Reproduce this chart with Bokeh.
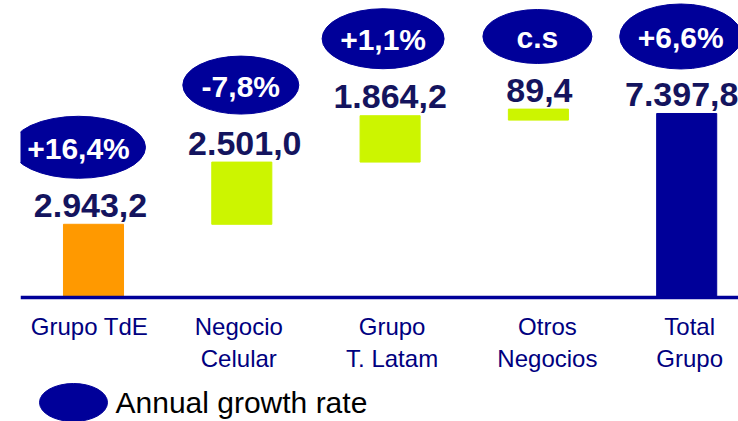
from bokeh.plotting import figure
from bokeh.models import ColumnDataSource, Range1d, Span
from bokeh.core.properties import value
from bokeh.embed import file_html
from bokeh.resources import INLINE

# ---------------- data ----------------
categories = ["Grupo TdE", "Negocio\nCelular", "Grupo\nT. Latam", "Otros\nNegocios", "Total\nGrupo"]
amounts = [2943.2, 2501.0, 1864.2, 89.4, 7397.8]
bar_kinds = ["start", "step", "step", "step", "total"]
growth_labels = ["+16,4%", "-7,8%", "+1,1%", "c.s", "+6,6%"]
legend_label = "Annual growth rate"

# ---------------- styles ----------------
bar_colors = ["#FF9900", "#CCF500", "#CCF500", "#CCF500", "#000099"]
badge_w = [134, 116, 122, 109, 122]
badge_h = [62, 58, 60, 54, 65]
badge_dx = [-15, -1, -7, -1, -6]
value_dx = [-3, 3, 0, 1, -5]
cat_dx = [-4, -3, 2, 9, 3]
NAVY = "#000099"
FONT = value("Liberation Sans")

W, H = 738, 421
LEFT = 20
PX_PER_CAT = 148.3
X0_PAGE = 93.0          # x of first category centre
BASE_PAGE = 297.0       # y of the baseline
UPP = 40.205            # data units per pixel (vertical)
MIN_BAR_PX = 11

x_start = (LEFT - X0_PAGE) / PX_PER_CAT
x_end = x_start + (W - LEFT) / PX_PER_CAT
y_end = BASE_PAGE * UPP
y_start = -(H - BASE_PAGE) * UPP


def fmt(v):
    s = f"{v:,.1f}"
    return s.replace(",", "X").replace(".", ",").replace("X", ".")


def px_to_x(px):
    return (px - X0_PAGE) / PX_PER_CAT


def py_to_y(py):
    return (BASE_PAGE - py) * UPP


# waterfall geometry
bottoms, tops = [], []
running = 0.0
for amt, kind in zip(amounts, bar_kinds):
    if kind == "start":
        b, t = 0.0, amt
        running = amt
    elif kind == "step":
        b, t = running, running + amt
        running += amt
    else:
        b, t = 0.0, amt
    bottoms.append(b)
    tops.append(t)

xs = list(range(len(categories)))

p = figure(width=W, height=H, x_range=Range1d(x_start, x_end), y_range=Range1d(y_start, y_end),
           x_axis_type=None, y_axis_type=None, output_backend="svg", toolbar_location=None,
           min_border_left=LEFT, min_border_right=0, min_border_top=0, min_border_bottom=0,
           outline_line_color=None, background_fill_color="white", border_fill_color="white")

normal = dict(x=[], bottom=[], top=[], color=[])
thin = dict(x=[], y=[], color=[])
label_anchor = []
for i in xs:
    h_px = (tops[i] - bottoms[i]) / UPP
    if h_px >= MIN_BAR_PX:
        normal["x"].append(i)
        normal["bottom"].append(bottoms[i])
        normal["top"].append(tops[i])
        normal["color"].append(bar_colors[i])
        label_anchor.append(tops[i])
    else:
        mid = (tops[i] + bottoms[i]) / 2
        thin["x"].append(i)
        thin["y"].append(mid)
        thin["color"].append(bar_colors[i])
        label_anchor.append(mid + MIN_BAR_PX / 2 * UPP)

p.vbar(x="x", bottom="bottom", top="top", width=0.405, color="color",
       source=ColumnDataSource(normal))
p.rect(x="x", y="y", width=0.405, height=MIN_BAR_PX, height_units="screen",
       color="color", source=ColumnDataSource(thin))

p.add_layout(Span(location=0, dimension="width", line_color=NAVY, line_width=3.5))

# value labels
vx = [i + dx / PX_PER_CAT for i, dx in zip(xs, value_dx)]
p.text(x=vx, y=label_anchor, text=[fmt(a) for a in amounts], text_font=FONT,
       text_font_style="bold", text_font_size="34px", text_color="#14145e",
       text_align="center", text_baseline="alphabetic", y_offset=-19)

# growth badges
bx = [i + dx / PX_PER_CAT for i, dx in zip(xs, badge_dx)]
by = [t + 77 * UPP for t in tops]
p.ellipse(x=bx, y=by, width=badge_w, height=badge_h, width_units="screen",
          height_units="screen", fill_color=NAVY, line_color=NAVY)
p.text(x=bx, y=by, text=growth_labels, text_font=FONT, text_font_style="bold",
       text_font_size="30px", text_color="white", text_align="center",
       text_baseline="middle", y_offset=1)

# category labels
cx = [i + dx / PX_PER_CAT for i, dx in zip(xs, cat_dx)]
p.text(x=cx, y=[0] * len(xs), text=categories, text_font=FONT, text_font_size="24px",
       text_color="#000080", text_align="center", text_baseline="top", y_offset=15,
       text_line_height=1.2)

# legend
p.ellipse(x=[px_to_x(73)], y=[py_to_y(402)], width=68, height=38, width_units="screen",
          height_units="screen", fill_color=NAVY, line_color=NAVY)
p.text(x=[px_to_x(115)], y=[py_to_y(414)], text=[legend_label], text_font=FONT,
       text_font_size="30px", text_color="#000000", text_align="left",
       text_baseline="alphabetic", y_offset=-12)

open("out.html", "w").write(file_html(p, INLINE))
